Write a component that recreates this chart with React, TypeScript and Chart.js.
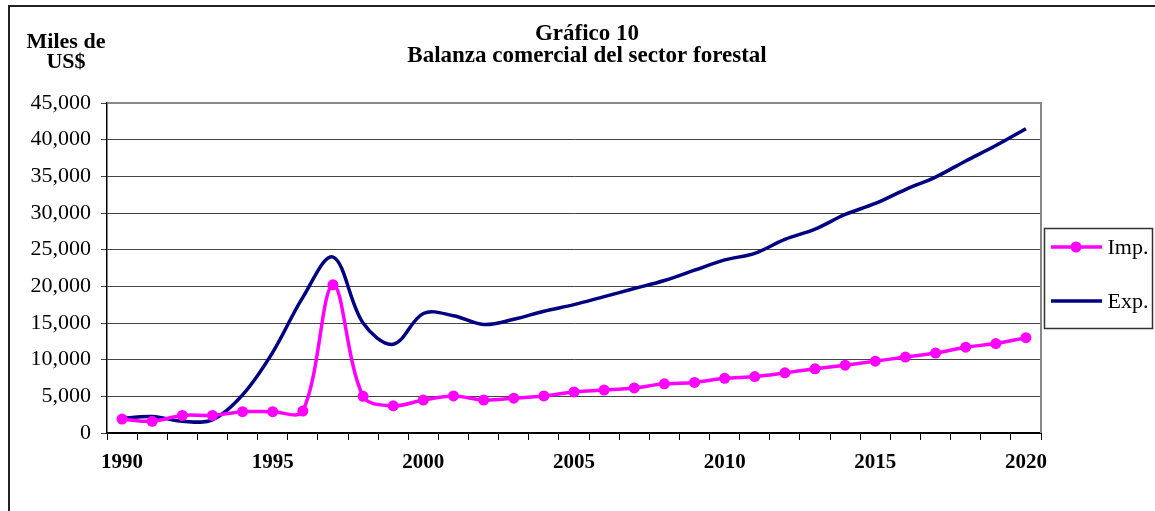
import React, { useEffect, useRef } from 'react';
import { Chart, registerables } from 'chart.js';

Chart.register(...registerables);

const years = [
  '1990', '1991', '1992', '1993', '1994', '1995', '1996', '1997', '1998', '1999',
  '2000', '2001', '2002', '2003', '2004', '2005', '2006', '2007', '2008', '2009',
  '2010', '2011', '2012', '2013', '2014', '2015', '2016', '2017', '2018', '2019',
  '2020',
];

const impValues = [
  1900, 1600, 2400, 2400, 2900, 2900, 3000, 20200, 5000, 3700,
  4500, 5050, 4500, 4750, 5050, 5600, 5850, 6150, 6700, 6900,
  7450, 7700, 8200, 8750, 9250, 9800, 10350, 10900, 11700, 12200,
  13000,
];

const expValues = [
  2000, 2250, 1600, 1800, 5200, 11000, 18500, 24000, 15000, 12100,
  16300, 16000, 14800, 15500, 16600, 17500, 18600, 19700, 20800, 22200,
  23600, 24500, 26400, 27800, 29800, 31300, 33200, 34900, 37100, 39200,
  41500,
];

const seriesNames = ['Imp.', 'Exp.'];
const titleLines = ['Gráfico 10', 'Balanza comercial del sector forestal'];
const unitLines = ['Miles de', 'US$'];
const labeledYears = ['1990', '1995', '2000', '2005', '2010', '2015', '2020'];

const IMP_COLOR = '#FF00FF';
const EXP_COLOR = '#000080';
const SERIF = "'Liberation Serif', 'Times New Roman', serif";

const overlayPlugin = {
  id: 'overlay',
  beforeDraw(chart: any) {
    const ctx = chart.ctx;
    ctx.save();
    ctx.fillStyle = '#ffffff';
    ctx.fillRect(0, 0, chart.width, chart.height);
    ctx.strokeStyle = '#222';
    ctx.lineWidth = 2;
    ctx.beginPath();
    ctx.moveTo(9, chart.height);
    ctx.lineTo(9, 6);
    ctx.lineTo(chart.width, 6);
    ctx.stroke();
    ctx.restore();
  },
  beforeDatasetsDraw(chart: any) {
    const { ctx, chartArea } = chart;
    ctx.save();
    ctx.strokeStyle = '#888';
    ctx.lineWidth = 2;
    ctx.beginPath();
    ctx.moveTo(chartArea.left, chartArea.top);
    ctx.lineTo(chartArea.right, chartArea.top);
    ctx.lineTo(chartArea.right, chartArea.bottom);
    ctx.stroke();
    ctx.restore();
  },
  afterDraw(chart: any) {
    const { ctx, chartArea } = chart;
    ctx.save();
    ctx.fillStyle = '#000';
    // Title
    ctx.font = `bold 23px ${SERIF}`;
    ctx.textAlign = 'center';
    ctx.textBaseline = 'alphabetic';
    const cx = 587;
    ctx.fillText(titleLines[0], cx, 40);
    ctx.fillText(titleLines[1], cx, 62);
    // Unit label
    ctx.font = `bold 22px ${SERIF}`;
    ctx.fillText(unitLines[0], 66, 48);
    ctx.fillText(unitLines[1], 66, 68);

    // Legend
    const lx = chartArea.right + 3.5;
    const ly = 228.5;
    ctx.strokeStyle = '#333';
    ctx.lineWidth = 1.5;
    ctx.strokeRect(lx, ly, 108, 100);
    const rows = [
      { name: seriesNames[0], color: IMP_COLOR, y: 247, marker: true },
      { name: seriesNames[1], color: EXP_COLOR, y: 301, marker: false },
    ];
    ctx.textAlign = 'left';
    ctx.font = `22px ${SERIF}`;
    rows.forEach((r) => {
      ctx.strokeStyle = r.color;
      ctx.lineWidth = 3.5;
      ctx.beginPath();
      ctx.moveTo(lx + 6.5, r.y);
      ctx.lineTo(lx + 57.5, r.y);
      ctx.stroke();
      if (r.marker) {
        ctx.fillStyle = r.color;
        ctx.beginPath();
        ctx.arc(lx + 31.5, r.y, 5.5, 0, Math.PI * 2);
        ctx.fill();
      }
      ctx.fillStyle = '#000';
      ctx.fillText(r.name, lx + 63, r.y + 7);
    });
    ctx.restore();
  },
};

export default function App() {
  const canvasRef = useRef<HTMLCanvasElement | null>(null);

  useEffect(() => {
    const canvas = canvasRef.current;
    if (!canvas) return;
    const chart = new Chart(canvas, {
      type: 'line',
      data: {
        labels: years,
        datasets: [
          {
            label: seriesNames[0],
            data: impValues,
            borderColor: IMP_COLOR,
            backgroundColor: IMP_COLOR,
            borderWidth: 3.5,
            pointRadius: 5.5,
            pointHoverRadius: 5.5,
            pointBackgroundColor: IMP_COLOR,
            pointBorderWidth: 0,
            tension: 0.35,
            fill: false,
          },
          {
            label: seriesNames[1],
            data: expValues,
            borderColor: EXP_COLOR,
            backgroundColor: EXP_COLOR,
            borderWidth: 3.5,
            pointRadius: 0,
            pointHoverRadius: 0,
            tension: 0.35,
            fill: false,
          },
        ],
      },
      options: {
        responsive: false,
        animation: false,
        devicePixelRatio: 1,
        layout: { padding: { left: 0, top: 103, right: 114, bottom: 0 } },
        plugins: {
          legend: { display: false },
          title: { display: false },
          tooltip: { enabled: false },
        },
        scales: {
          x: {
            type: 'category',
            offset: true,
            grid: {
              offset: true,
              drawOnChartArea: false,
              drawTicks: true,
              tickLength: 7,
              color: '#000',
              lineWidth: 1,
            },
            border: { display: true, color: '#000', width: 2 },
            ticks: {
              autoSkip: false,
              maxRotation: 0,
              minRotation: 0,
              padding: 10,
              color: '#000',
              font: { family: SERIF, size: 21, weight: 'bold' },
              callback: function (this: any, value: any) {
                const lbl = this.getLabelForValue(value);
                return labeledYears.includes(lbl) ? lbl : '';
              },
            },
            afterFit: (scale: any) => {
              scale.height = 78;
            },
          },
          y: {
            min: 0,
            max: 45000,
            ticks: {
              stepSize: 5000,
              padding: 10,
              color: '#000',
              font: { family: SERIF, size: 22 },
              callback: (v: any) => Number(v).toLocaleString('en-US'),
            },
            grid: {
              color: '#444',
              lineWidth: 1,
              drawTicks: true,
              tickLength: 6,
            },
            border: { display: true, color: '#000', width: 1.5 },
            afterFit: (scale: any) => {
              scale.width = 107;
            },
          },
        },
      },
      plugins: [overlayPlugin],
    });
    return () => chart.destroy();
  }, []);

  return (
    <div style={{ position: 'fixed', left: 0, top: 0, width: 1155, height: 511, background: '#fff' }}>
      <canvas ref={canvasRef} width={1155} height={511} style={{ display: 'block' }} />
    </div>
  );
}
